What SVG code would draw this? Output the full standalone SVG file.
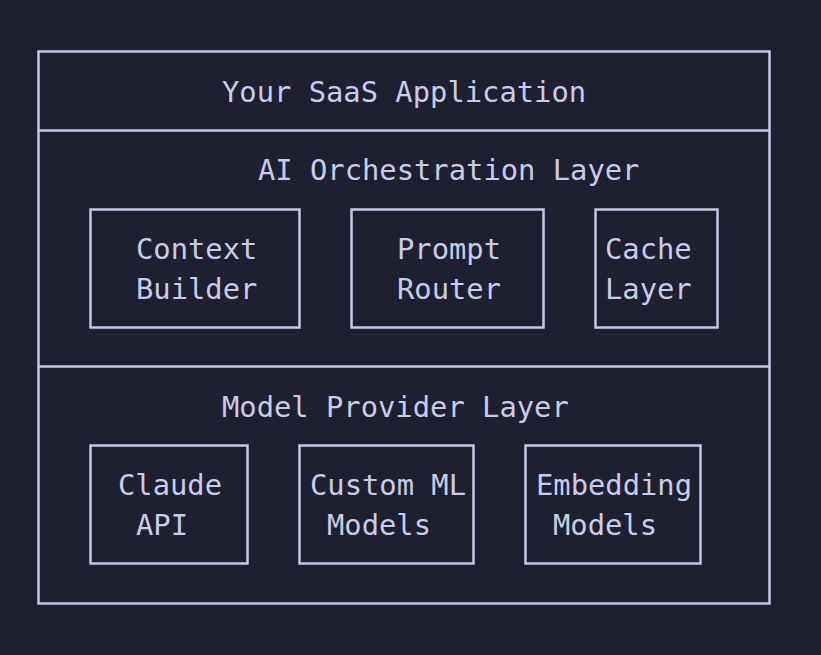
<svg xmlns="http://www.w3.org/2000/svg" width="821" height="655" viewBox="0 0 821 655">
<style>
.bg{fill:#1e1f2f}
.frame{fill:none;stroke:#c6c9e6;stroke-width:2.5}
.t{font-family:"DejaVu Sans Mono","Liberation Mono",monospace;font-size:28.8px;fill:#c9cce8}
</style>
<rect class="bg" x="0" y="0" width="821" height="655"/>
<g id="app">
<rect class="frame" x="38.5" y="51.5" width="731" height="552"/>
<line class="frame" x1="38.5" y1="130.5" x2="769.5" y2="130.5"/>
<text class="t" x="222" y="102">Your SaaS Application</text>
</g>
<g id="orchestration">
<line class="frame" x1="38.5" y1="366.5" x2="769.5" y2="366.5"/>
<text class="t" x="258" y="180">AI Orchestration Layer</text>
</g>
<g id="context-builder">
<rect class="frame" x="90.5" y="209.5" width="209" height="118"/>
<text class="t" x="136" y="259">Context</text>
<text class="t" x="136" y="299">Builder</text>
</g>
<g id="prompt-router">
<rect class="frame" x="351.5" y="209.5" width="192" height="118"/>
<text class="t" x="397" y="259">Prompt</text>
<text class="t" x="397" y="299">Router</text>
</g>
<g id="cache-layer">
<rect class="frame" x="595.5" y="209.5" width="122" height="118"/>
<text class="t" x="605" y="259">Cache</text>
<text class="t" x="605" y="299">Layer</text>
</g>
<g id="model-provider">
<text class="t" x="222" y="417">Model Provider Layer</text>
</g>
<g id="claude-api">
<rect class="frame" x="90.5" y="445.5" width="157" height="118"/>
<text class="t" x="118" y="495">Claude</text>
<text class="t" x="136" y="535">API</text>
</g>
<g id="custom-ml">
<rect class="frame" x="299.5" y="445.5" width="174" height="118"/>
<text class="t" x="310" y="495">Custom ML</text>
<text class="t" x="327" y="535">Models</text>
</g>
<g id="embedding">
<rect class="frame" x="525.5" y="445.5" width="175" height="118"/>
<text class="t" x="536" y="495">Embedding</text>
<text class="t" x="553" y="535">Models</text>
</g>
<g id="connectors"></g>
</svg>
